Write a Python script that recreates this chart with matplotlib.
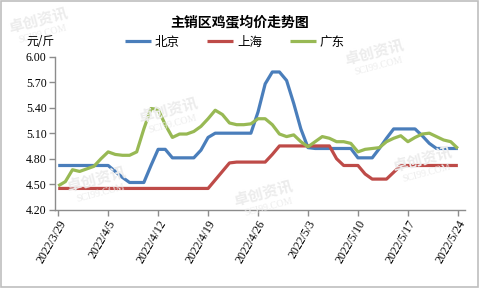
import numpy as np
import pandas as pd
import matplotlib
matplotlib.use('Agg')
import matplotlib.pyplot as plt

plt.rcParams['font.family'] = ['Noto Sans CJK SC', 'DejaVu Sans']

# daily prices, 2022/3/29 - 2022/5/24 (yuan / jin)
dates = pd.date_range('2022-03-29', '2022-05-24', freq='D')

beijing = [4.72, 4.72, 4.72, 4.72, 4.72, 4.72, 4.72, 4.72, 4.65, 4.58,
           4.52, 4.52, 4.52, 4.72, 4.91, 4.91, 4.81, 4.81, 4.81, 4.81,
           4.90, 5.05, 5.10, 5.10, 5.10, 5.10, 5.10, 5.10, 5.35, 5.68,
           5.82, 5.82, 5.72, 5.45, 5.15, 4.93, 4.92, 4.92, 4.92, 4.92,
           4.92, 4.92, 4.81, 4.81, 4.81, 4.92, 5.04, 5.15, 5.15, 5.15,
           5.15, 5.07, 4.98, 4.92, 4.92, 4.92, 4.92]

shanghai = [4.45, 4.45, 4.45, 4.45, 4.45, 4.45, 4.45, 4.45, 4.45, 4.45,
            4.45, 4.45, 4.45, 4.45, 4.45, 4.45, 4.45, 4.45, 4.45, 4.45,
            4.45, 4.45, 4.55, 4.65, 4.75, 4.76, 4.76, 4.76, 4.76, 4.76,
            4.85, 4.95, 4.95, 4.95, 4.95, 4.95, 4.95, 4.95, 4.95, 4.80,
            4.72, 4.72, 4.72, 4.62, 4.56, 4.56, 4.56, 4.64, 4.72, 4.72,
            4.72, 4.72, 4.72, 4.72, 4.72, 4.72, 4.72]

guangdong = [4.48, 4.53, 4.67, 4.65, 4.68, 4.71, 4.80, 4.88, 4.85, 4.84,
             4.84, 4.88, 5.15, 5.39, 5.38, 5.20, 5.05, 5.09, 5.09, 5.12,
             5.18, 5.27, 5.37, 5.32, 5.22, 5.20, 5.20, 5.21, 5.27, 5.27,
             5.20, 5.09, 5.06, 5.08, 5.00, 4.94, 5.00, 5.06, 5.04, 5.00,
             5.00, 4.98, 4.88, 4.91, 4.92, 4.93, 5.00, 5.04, 5.07, 5.00,
             5.05, 5.09, 5.10, 5.06, 5.02, 5.00, 4.92]

series = [('北京', beijing, '#4A7EBB'),
          ('上海', shanghai, '#BE4B48'),
          ('广东', guangdong, '#98B954')]

y_ticks = [4.20, 4.50, 4.80, 5.10, 5.40, 5.70, 6.00]

fig = plt.figure(figsize=(4.79, 2.88), dpi=100)
ax = fig.add_axes([0.1148, 0.2719, 0.856, 0.5313])

x = np.arange(len(dates))
for name, vals, color in series:
    ax.plot(x, vals, color=color, lw=2.3, label=name,
            solid_joinstyle='round', solid_capstyle='butt')

ax.set_xlim(-0.45, 57)
ax.set_ylim(4.20, 6.00)
ax.set_yticks(y_ticks)
ax.set_yticklabels([f'{v:.2f}' for v in y_ticks], family=['Liberation Serif'], fontsize=8.5)

xt = x[::7]
ax.set_xticks(xt)
ax.set_xticklabels([f'{d.year}/{d.month}/{d.day}' for d in dates[::7]],
                   rotation=60, ha='right', rotation_mode='anchor',
                   family=['Liberation Serif'], fontsize=8.5)

for s in ['top', 'right']:
    ax.spines[s].set_visible(False)
for s in ['left', 'bottom']:
    ax.spines[s].set_color('#8c8c8c')
    ax.spines[s].set_linewidth(1.0)
ax.tick_params(axis='both', colors='#8c8c8c', length=4, width=1.0,
               labelcolor='black', pad=2)

# light watermarks
for wx, wy in [(0.08, 0.93), (0.35, 0.62), (0.78, 0.82), (0.55, 0.33), (0.88, 0.45), (0.2, 0.38)]:
    fig.text(wx, wy, '卓创资讯', fontsize=11, color='#ececec', rotation=15,
             ha='center', va='center', zorder=0, fontweight='bold')
    fig.text(wx + 0.01, wy - 0.05, 'SCI99.COM', fontsize=7, color='#ececec', rotation=15,
             ha='center', va='center', zorder=0, family=['Liberation Serif'])

fig.text(0.501, 0.923, '主销区鸡蛋均价走势图', fontsize=10, fontweight='bold',
         ha='center', va='center')
fig.text(0.085, 0.855, '元/斤', fontsize=8.5, ha='center', va='center')

ax.legend(loc='center', bbox_to_anchor=(0.49, 0.853), bbox_transform=fig.transFigure,
          ncol=3, frameon=False, fontsize=9, handlelength=2.1, handletextpad=0.3,
          columnspacing=2.2)

fig.patches.append(plt.Rectangle((0.002, 0.003), 0.996, 0.994, transform=fig.transFigure,
                                 fill=False, edgecolor='#bfbfbf', lw=1.2))

fig.savefig('out.png', dpi=100)
